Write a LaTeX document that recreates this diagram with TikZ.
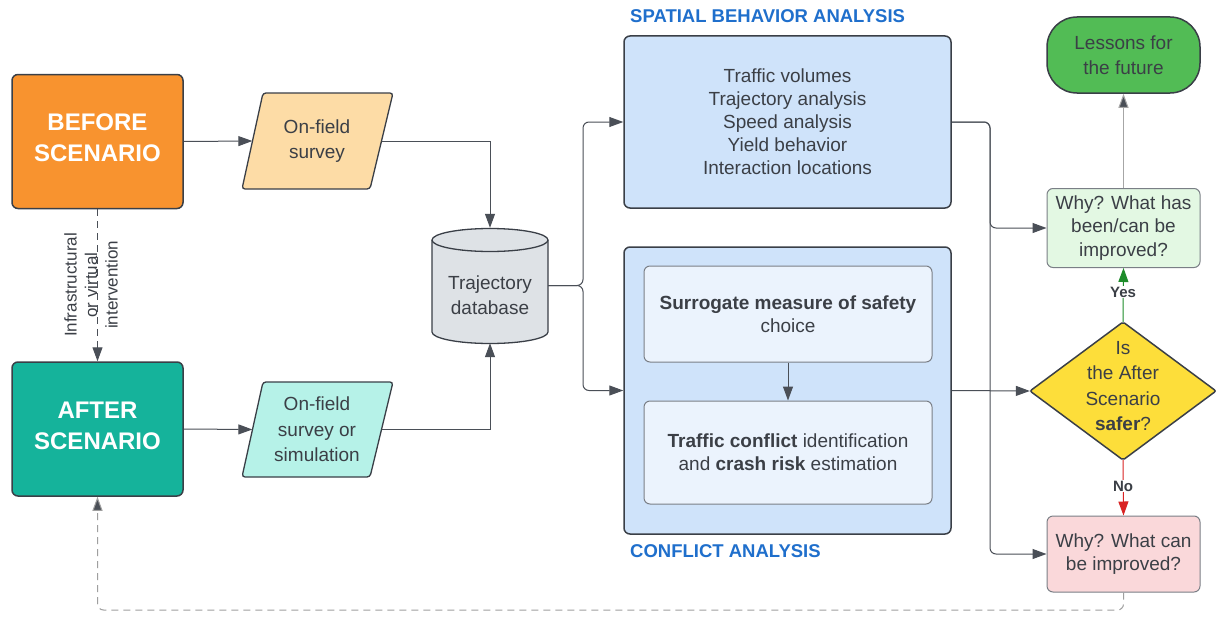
\documentclass[tikz,border=0pt]{standalone}
\usepackage{fontspec}
\setmainfont{Liberation Sans}
\usetikzlibrary{arrows.meta}
\definecolor{ink}{HTML}{3B3F46}
\definecolor{edge}{HTML}{3A3F47}
\definecolor{lightedge}{HTML}{7A7F86}
\definecolor{wire}{HTML}{4A4F57}
\definecolor{orangeA}{HTML}{F8932F}
\definecolor{tealA}{HTML}{15B39B}
\definecolor{peach}{HTML}{FDDCA6}
\definecolor{mint}{HTML}{B6F2E8}
\definecolor{dbgray}{HTML}{DEE2E6}
\definecolor{blueA}{HTML}{CFE3FA}
\definecolor{blueB}{HTML}{EBF3FD}
\definecolor{titleblue}{HTML}{1F6FCC}
\definecolor{greenA}{HTML}{52BC55}
\definecolor{greenB}{HTML}{E3F8E3}
\definecolor{yellowA}{HTML}{FDDE3A}
\definecolor{pinkA}{HTML}{FAD8DA}
\definecolor{yesgreen}{HTML}{1E8C2A}
\definecolor{nored}{HTML}{D92323}
\begin{document}
\begin{tikzpicture}[x=1pt,y=-1pt,
  txt/.style={font=\fontsize{19}{23}\selectfont, text=ink, align=center, inner sep=0},
  box/.style={draw=edge, line width=1.5pt, rounded corners=6, inner sep=0, align=center, text=ink, font=\fontsize{19}{23}\selectfont},
  softbox/.style={draw=lightedge, line width=1pt, rounded corners=6, inner sep=0, align=center, text=ink, font=\fontsize{19}{23}\selectfont},
  bigbox/.style={draw=edge, line width=1.5pt, rounded corners=6, inner sep=0, minimum width=171, minimum height=134},
  bigtext/.style={inner sep=0, align=center, text=white, font=\bfseries\fontsize{24}{31}\selectfont},
  ghost/.style={inner sep=0, align=center, text=ink, font=\fontsize{19}{25.5}\selectfont},
  tip/.style={-{Triangle[length=14pt,width=10pt]}},
  conn/.style={draw=wire, line width=1pt, tip},
  dashconn/.style={conn, dash pattern=on 7pt off 5pt},
  title/.style={font=\bfseries\fontsize{18.5}{22}\selectfont, text=titleblue, inner sep=0, anchor=west},
  lbl/.style={font=\bfseries\fontsize{15}{18}\selectfont, text=ink, fill=white, inner sep=1pt}
]
\useasboundingbox[fill=white] (0,0) rectangle (1217,618);

% left column
\node[bigbox, fill=orangeA] (before) at (97.5,141.5) {};
\node[bigtext] (beforetext) at (97.5,138) {BEFORE\\SCENARIO};
\node[bigbox, fill=tealA] (after) at (97.5,429) {};
\node[bigtext] (aftertext) at (97.5,425.5) {AFTER\\SCENARIO};

% parallelograms
\draw[draw=edge, line width=1.3pt, fill=peach, rounded corners=3]
  (263,93) -- (393,93) -- (370,189) -- (242,189) -- cycle;
\draw[draw=edge, line width=1.3pt, fill=mint, rounded corners=3]
  (263,382) -- (393,382) -- (370,477) -- (242,477) -- cycle;
\node[ghost, minimum width=129, minimum height=96] (s1) at (317,141) {On-field\\survey};
\node[ghost, minimum width=129, minimum height=95] (s2) at (317,429.5) {On-field\\survey or\\simulation};

% database cylinder
\filldraw[draw=edge, line width=1.3pt, fill=dbgray]
  (432,240) -- (432,332) arc[start angle=180, end angle=360, x radius=58pt, y radius=11.5pt]
  -- (548,240) arc[start angle=0, end angle=180, x radius=58pt, y radius=11.5pt] -- cycle;
\draw[draw=edge, line width=1.3pt] (432,240) arc[start angle=180, end angle=360, x radius=58pt, y radius=11.5pt];
\node[inner sep=0, minimum width=116, minimum height=115] (db) at (490,285.5) {};
\node[txt, font=\fontsize{19}{25}\selectfont] (dbtext) at (490,295) {Trajectory\\database};

% analysis boxes
\node[title] (sptitle) at (630,16) {SPATIAL BEHAVIOR ANALYSIS};
\node[box, fill=blueA, minimum width=327, minimum height=172] (spatial) at (787.5,122)
  {Traffic volumes\\Trajectory analysis\\Speed analysis\\Yield behavior\\Interaction locations};
\node[box, fill=blueA, minimum width=327, minimum height=287] (conflict) at (787.5,390.5) {};
\node[title] (cftitle) at (630,551) {CONFLICT ANALYSIS};
\node[softbox, fill=blueB, minimum width=288, minimum height=96] (inner1) at (788,314)
  {\textbf{Surrogate measure of safety}\\choice};
\node[softbox, fill=blueB, minimum width=288, minimum height=103] (inner2) at (788,452.5)
  {\textbf{Traffic conflict} identification\\and \textbf{crash risk} estimation};

% right column
\node[box, fill=greenA, minimum width=153, minimum height=76, rounded corners=30,
  font=\fontsize{19}{25}\selectfont] (lessons) at (1123.5,55) {Lessons for\\the future};
\node[softbox, fill=greenB, minimum width=153, minimum height=79,
  font=\fontsize{19}{23.5}\selectfont] (whyhas) at (1123.5,228) {Why? What has\\been/can be\\improved?};
\node[softbox, fill=pinkA, minimum width=153, minimum height=76] (whycan) at (1123.5,554)
  {Why? What can\\be improved?};
\draw[draw=edge, line width=1.5pt, fill=yellowA, rounded corners=2]
  (1030,391) -- (1123,322) -- (1216,391) -- (1123,460) -- cycle;
\node[inner sep=0, minimum width=186, minimum height=138] (dia) at (1123,391) {};
\node[ghost] (diatext) at (1123,386) {Is\\the After\\Scenario\\\textbf{safer}?};

% helper coordinates
\coordinate (brL) at (583,0);
\coordinate (brR) at (990,0);
\coordinate (fb) at (0,610);

% connectors
\draw[conn] (before.east) -- (s1.west);
\draw[conn] (after.east) -- (s2.west);
\draw[dashconn] (before.south) -- (after.north);
\node[txt, rotate=90, font=\fontsize{17}{20.5}\selectfont] (interv) at (91,285)
  {Infrastructural\\or virtual\\intervention};
\draw[conn] (s1.east) -| (db.north);
\draw[conn] (s2.east) -| (db.south);
\draw[conn, rounded corners=6] (db.east) -- (db.east -| brL) |- (spatial.west);
\draw[conn, rounded corners=6] (db.east) -- (db.east -| brL) |- (conflict.west);
\draw[conn] (inner1.south) -- (inner2.north);
\draw[conn, rounded corners=6] (spatial.east) -- (spatial.east -| brR) |- (whyhas.west);
\draw[conn, rounded corners=6] (spatial.east) -- (spatial.east -| brR) |- (whycan.west);
\draw[conn] (conflict.east) -- (dia.west);
\draw[conn, draw=gray!70, -{Triangle[length=14pt,width=10pt,fill=wire]}] (whyhas.north) -- (lessons.south);
\draw[conn, draw=yesgreen] (dia.north) -- (whyhas.south);
\node[lbl] (yes) at (1123,292) {Yes};
\draw[conn, draw=nored] (dia.south) -- (whycan.north);
\node[lbl] (no) at (1123,486) {No};
\draw[dashconn, draw=gray!75, rounded corners=6, -{Triangle[length=14pt,width=10pt,fill=wire]}]
  (whycan.south) -- (whycan.south |- fb) -| (after.south);
\end{tikzpicture}
\end{document}
